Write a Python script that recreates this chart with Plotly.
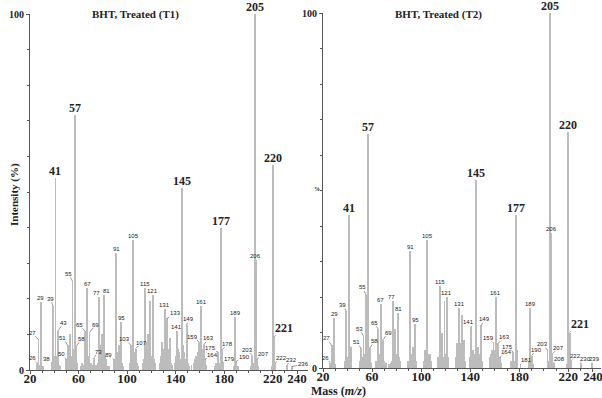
import plotly.graph_objects as go

# ---------------- data ----------------
t1_mass = [26, 27, 28, 29, 30, 31, 38, 39, 40, 41, 42, 43, 44, 45, 50, 51, 52, 53, 54, 55, 56, 57, 58, 59,
           62, 63, 64, 65, 66, 67, 68, 69, 70, 71, 73, 74, 75, 76, 77, 78, 79, 80, 81, 82, 83, 84, 85,
           89, 90, 91, 92, 93, 94, 95, 96, 97, 102, 103, 104, 105, 106, 107, 108, 109,
           113, 114, 115, 116, 117, 118, 119, 120, 121, 122, 123, 127, 128, 129, 130, 131, 132, 133, 134, 135, 136, 137,
           139, 140, 141, 142, 143, 144, 145, 146, 147, 148, 149, 150, 151, 153, 155, 156, 157, 158, 159, 160,
           161, 162, 163, 164, 165, 172, 173, 174, 175, 176, 177, 178, 179, 188, 189, 190, 191,
           202, 203, 204, 205, 206, 207, 208, 219, 220, 221, 222, 232, 236]
t1_int = [2, 8.5, 1.5, 19, 1, 1, 2, 18, 4, 54, 4, 11, 1.5, 1, 3, 7, 3, 10, 4, 25, 6, 71.5, 6.5, 2,
          1, 2, 1.5, 11, 5, 23, 4, 10.5, 2, 1.5, 3.5, 1.5, 1.5, 2, 20.5, 7, 10, 5, 21, 4, 3, 1, 1,
          3, 2, 33, 5, 7, 3, 13.5, 2, 1, 2, 7, 3, 36.5, 5, 6, 2, 1,
          2, 3, 23, 8, 10, 3, 19.5, 4, 21, 3, 2, 2, 4, 8, 6, 17, 8, 14.5, 6, 9, 2, 1.5,
          2, 4, 11, 6, 5, 3, 51, 7, 5, 3, 12.6, 2, 1, 1.5, 2, 3, 4, 5, 8, 5,
          18, 6, 7, 3, 1.5, 1, 2, 2, 5, 2, 40, 5.6, 2, 1, 15, 2.5, 1,
          1, 4, 2, 100, 31, 3, 1, 1, 57.6, 9.3, 2, 1.5, 1]

t2_mass = [26, 27, 28, 29, 30, 38, 39, 40, 41, 42, 43, 50, 51, 52, 53, 54, 55, 56, 57, 58, 59,
           63, 64, 65, 66, 67, 68, 69, 70, 71, 74, 75, 76, 77, 78, 79, 80, 81, 82, 83,
           89, 90, 91, 92, 93, 94, 95, 96, 102, 103, 104, 105, 106, 107, 108,
           114, 115, 116, 117, 118, 119, 120, 121, 122, 128, 129, 130, 131, 132, 133, 134, 135, 136,
           140, 141, 142, 143, 144, 145, 146, 147, 148, 149, 150, 156, 157, 158, 159, 160,
           161, 162, 163, 164, 165, 173, 174, 175, 176, 177, 178, 181, 188, 189, 190, 191,
           203, 204, 205, 206, 207, 208, 219, 220, 221, 222, 230, 239]
t2_int = [1.5, 6.4, 1, 14, 1, 2, 16, 3, 43, 3, 6, 2, 5.6, 3, 9, 4, 20.5, 5, 66, 5.6, 1.5,
          2, 1.5, 11, 4, 18, 3, 8, 2, 1.5, 1, 1.5, 2, 19, 5, 11, 4, 15.6, 3, 2,
          2, 1.5, 33, 4, 6, 3, 12.5, 2, 2, 5, 3, 36, 4, 4, 2,
          3, 23, 8, 10, 3, 19, 4, 20, 3, 3, 7, 5, 17, 7, 15, 5, 8, 2,
          3, 11.5, 5, 4, 3, 53, 6, 4, 3, 12, 2, 3, 4, 5, 7, 5,
          20, 5, 7, 3, 1.5, 2, 2, 4.5, 2, 43, 5, 1, 2, 17, 3.5, 1,
          5, 2, 100, 38, 4, 1.5, 1, 66.5, 10, 2, 1.5, 1.5]

t1_big = [41, 57, 145, 177, 205, 220, 221]
t1_small = [26, 27, 29, 38, 39, 43, 50, 51, 55, 58, 65, 67, 69, 73, 77, 81, 89, 91, 95, 103, 105, 107,
            115, 121, 131, 133, 141, 149, 159, 161, 163, 164, 175, 178, 179, 189, 190, 203, 206, 207,
            222, 232, 236]
t2_big = [41, 57, 145, 177, 205, 220, 221]
t2_small = [26, 27, 29, 39, 51, 53, 55, 58, 65, 67, 69, 77, 81, 91, 95, 105, 115, 121, 131, 141,
            149, 159, 161, 163, 164, 175, 181, 189, 190, 203, 206, 207, 208, 222, 230, 239]

panel_titles = ["BHT, Treated (T1)", "BHT, Treated (T2)"]
x_ticks = [20, 60, 100, 140, 180, 220, 240]

# ---------------- layout helpers (label placement, px offsets) ----------------
t1_leader = {26: (-5, -5), 27: (-6, -7), 38: (-5, -4), 39: (-3, -7), 43: (6, -8), 50: (-5, -5),
             51: (-5, -7), 55: (-4, -7), 58: (5, -8), 65: (-5, -6), 69: (6, -8), 73: (4, -6),
             89: (-5, -4), 103: (-6, -6), 107: (6, -6), 133: (8, -5), 149: (2, -6), 159: (-6, -5),
             163: (5, -7), 164: (8, -4), 175: (-8, -4), 178: (6, -6), 179: (6, -4), 190: (8, -4),
             203: (-5, -6), 207: (6, -5), 221: (10, -9), 222: (6, -5), 232: (4, -5), 236: (11, -2)}
t2_leader = {26: (-5, -5), 27: (-5, -7), 39: (-4, -6), 51: (-5, -6), 53: (-4, -7), 55: (-3, -8),
             58: (5, -7), 65: (-4, -6), 69: (5, -7), 141: (-3, -5), 149: (3, -6), 159: (-5, -5),
             163: (6, -6), 164: (7, -5), 175: (-6, -5), 181: (6, -4), 190: (5, -6), 203: (-5, -6),
             207: (6, -6), 208: (6, -4), 221: (10, -9), 222: (5, -5), 230: (5, -4), 239: (3, -4)}
t1_nudge = {77: -3, 81: 2}
t2_nudge = {77: -1, 81: 1}

W, H = 602, 398
SERIF = "Liberation Serif"
SANS = "Liberation Sans"
BAR = "#bcbcbc"
AX = "#555555"

fig = go.Figure()
fig.add_trace(go.Bar(x=t1_mass, y=t1_int, width=0.75, marker=dict(color=BAR, line=dict(width=0)),
                     xaxis="x", yaxis="y", showlegend=False, hoverinfo="skip"))
fig.add_trace(go.Bar(x=t2_mass, y=t2_int, width=0.75, marker=dict(color=BAR, line=dict(width=0)),
                     xaxis="x2", yaxis="y2", showlegend=False, hoverinfo="skip"))

ann = []


def add_labels(masses, ints, big, small, leader, nudge, xr, yr):
    lookup = dict(zip(masses, ints))
    for m in big + small:
        h = lookup[m]
        is_big = m in big
        font = dict(family=SERIF, size=12, color="#222", weight="bold") if is_big else \
            dict(family=SANS, size=6, color="#222")
        if m in leader:
            dx, dy = leader[m]
            ann.append(dict(x=m, y=h, xref=xr, yref=yr, text=str(m), showarrow=True,
                            arrowhead=0, arrowwidth=0.6, arrowcolor="#555", standoff=0,
                            ax=dx, ay=dy, font=font, borderpad=0))
        else:
            ann.append(dict(x=m, y=h, xref=xr, yref=yr, text=str(m), showarrow=False,
                            xanchor="center", yanchor="bottom", yshift=-1 if is_big else 0,
                            xshift=nudge.get(m, 0), font=font, borderpad=0))


add_labels(t1_mass, t1_int, t1_big, t1_small, t1_leader, t1_nudge, "x", "y")
add_labels(t2_mass, t2_int, t2_big, t2_small, t2_leader, t2_nudge, "x2", "y2")


def paper_text(px, py, text, font, angle=0):
    return dict(x=px / W, y=1 - py / H, xref="paper", yref="paper", text=text, showarrow=False,
                xanchor="center", yanchor="middle", textangle=angle, font=font, borderpad=0)


title_font = dict(family=SERIF, size=11, color="#222", weight="bold")
ann.append(paper_text(135, 15, panel_titles[0], title_font))
ann.append(paper_text(439, 15, panel_titles[1], title_font))
ann.append(paper_text(15, 195, "Intensity (%)", dict(family=SERIF, size=11, color="#222", weight="bold"), -90))
ann.append(paper_text(338, 391, "Mass (<i>m/z</i>)", dict(family=SERIF, size=12, color="#222", weight="bold")))
ann.append(paper_text(317, 189, "%", dict(family=SERIF, size=6, color="#222", weight="bold")))

xtickfont = dict(family=SERIF, size=13, color="#222", weight="bold")
ytickfont = dict(family=SERIF, size=10, color="#222", weight="bold")


def xaxis(domain, rng, anchor):
    return dict(domain=domain, range=rng, anchor=anchor, showline=True, linecolor=AX, linewidth=1,
                tickvals=x_ticks, ticks="outside", ticklen=3, tickcolor=AX, tickfont=xtickfont,
                ticklabelstandoff=-7, ticklabeloverflow="allow", automargin=False,
                showgrid=False, zeroline=False, fixedrange=True,
                minor=dict(dtick=10, tick0=0, ticks="outside", ticklen=2, tickcolor=AX))


def yaxis(domain, anchor):
    return dict(domain=domain, range=[0, 100], anchor=anchor, showline=True, linecolor=AX, linewidth=1,
                tickvals=[0, 100], ticks="outside", ticklen=3, tickcolor=AX, tickfont=ytickfont,
                ticklabeloverflow="allow", automargin=False,
                showgrid=False, zeroline=False, fixedrange=True,
                minor=dict(dtick=10, tick0=0, ticks="outside", ticklen=2, tickcolor=AX))


fig.update_layout(
    width=W, height=H, margin=dict(l=0, r=0, t=0, b=0, pad=0, autoexpand=False),
    paper_bgcolor="white", plot_bgcolor="white", bargap=0, hovermode=False,
    xaxis=xaxis([30 / W, 308 / W], [20, 249], "y"),
    yaxis=yaxis([28 / H, 384 / H], "x"),
    xaxis2=xaxis([323 / W, 601 / W], [20, 246.6], "y2"),
    yaxis2=yaxis([30 / H, 385 / H], "x2"),
    annotations=ann,
)

fig.write_html("out.html", config={"displayModeBar": False},
               post_script="document.body.style.margin='0';document.body.style.overflow='hidden';")
